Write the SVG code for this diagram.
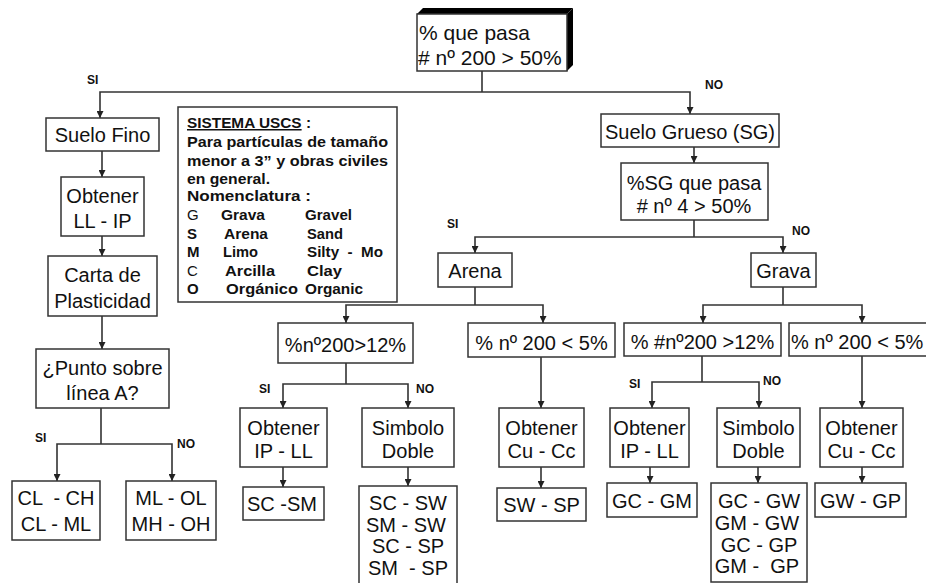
<svg xmlns="http://www.w3.org/2000/svg" width="926" height="583" viewBox="0 0 926 583">
<style>
.box{fill:#fff;stroke:#333;stroke-width:1.5}
.t{font-family:"Liberation Sans",Arial,sans-serif;font-size:20px;fill:#111;text-anchor:middle}
.lbl{font-family:"Liberation Sans",Arial,sans-serif;font-size:12px;font-weight:bold;fill:#111}
.k{font-family:"Liberation Sans",Arial,sans-serif;font-size:15px;font-weight:bold;fill:#111}
.r{font-weight:normal}
.conn path{stroke:#333;stroke-width:1.6;fill:none}
</style>
<defs>
<marker id="ah" viewBox="0 0 10 10" refX="10" refY="5" markerWidth="7" markerHeight="7" markerUnits="userSpaceOnUse" orient="auto">
<path d="M0,0 L10,5 L0,10 z" fill="#222"/>
</marker>
</defs>
<rect width="926" height="583" fill="#fff"/>

<g class="conn">
<path d="M482,71 V92"/>
<path d="M482,92 H100 V118" marker-end="url(#ah)"/>
<path d="M482,92 H690 V114" marker-end="url(#ah)"/>
<path d="M102,151 V177" marker-end="url(#ah)"/>
<path d="M102,236 V256" marker-end="url(#ah)"/>
<path d="M102,316 V349" marker-end="url(#ah)"/>
<path d="M101,408 V444"/>
<path d="M101,444 H57 V481" marker-end="url(#ah)"/>
<path d="M101,444 H172 V481" marker-end="url(#ah)"/>
<path d="M694,147 V163" marker-end="url(#ah)"/>
<path d="M694,220 V237"/>
<path d="M694,237 H475 V253" marker-end="url(#ah)"/>
<path d="M694,237 H783 V253" marker-end="url(#ah)"/>
<path d="M475,287 V305"/>
<path d="M475,305 H346 V323" marker-end="url(#ah)"/>
<path d="M475,305 H543 V323" marker-end="url(#ah)"/>
<path d="M783,287 V305"/>
<path d="M783,305 H703 V323" marker-end="url(#ah)"/>
<path d="M783,305 H862 V323" marker-end="url(#ah)"/>
<path d="M346,363 V384"/>
<path d="M346,384 H283 V408" marker-end="url(#ah)"/>
<path d="M346,384 H408 V408" marker-end="url(#ah)"/>
<path d="M541,357 V408" marker-end="url(#ah)"/>
<path d="M702,356 V382"/>
<path d="M702,382 H652 V408" marker-end="url(#ah)"/>
<path d="M702,382 H759 V408" marker-end="url(#ah)"/>
<path d="M862,356 V408" marker-end="url(#ah)"/>
<path d="M283,467 V487" marker-end="url(#ah)"/>
<path d="M408,467 V486" marker-end="url(#ah)"/>
<path d="M541,467 V488" marker-end="url(#ah)"/>
<path d="M650,467 V483" marker-end="url(#ah)"/>
<path d="M758,467 V483" marker-end="url(#ah)"/>
<path d="M862,467 V483" marker-end="url(#ah)"/>
</g>

<g id="labels">
<text class="lbl" x="87" y="84">SI</text>
<text class="lbl" x="705" y="89">NO</text>
<text class="lbl" x="35" y="442">SI</text>
<text class="lbl" x="177" y="448">NO</text>
<text class="lbl" x="447" y="228">SI</text>
<text class="lbl" x="792" y="235">NO</text>
<text class="lbl" x="259" y="393">SI</text>
<text class="lbl" x="416" y="393">NO</text>
<text class="lbl" x="629" y="388">SI</text>
<text class="lbl" x="763" y="385">NO</text>
</g>

<g id="root">
<polygon points="417,14 423,8 573,8 567,14" fill="#000"/>
<polygon points="567,14 573,8 573,65 567,71" fill="#000"/>
<rect class="box" x="417" y="14" width="150" height="57"/>
<text class="t" x="419" y="40" style="text-anchor:start;font-size:21px">% que pasa</text>
<text class="t" x="418" y="65" style="text-anchor:start;font-size:21px"># nº 200 &gt; 50%</text>
</g>

<g id="suelo-fino">
<rect class="box" x="46" y="118" width="113" height="33"/>
<text class="t" x="102.5" y="142">Suelo Fino</text>
</g>
<g id="obtener-ll-ip">
<rect class="box" x="61" y="177" width="83" height="59"/>
<text class="t" x="102.5" y="203">Obtener</text>
<text class="t" x="102.5" y="228">LL - IP</text>
</g>
<g id="carta">
<rect class="box" x="48" y="256" width="109" height="60"/>
<text class="t" x="102.5" y="282">Carta de</text>
<text class="t" x="102.5" y="308">Plasticidad</text>
</g>
<g id="punto">
<rect class="box" x="36" y="349" width="133" height="59"/>
<text class="t" x="102.5" y="375">¿Punto sobre</text>
<text class="t" x="102.5" y="400">línea A?</text>
</g>
<g id="cl">
<rect class="box" x="12" y="481" width="88" height="59"/>
<text class="t" x="56" y="505" xml:space="preserve">CL  - CH</text>
<text class="t" x="56" y="531">CL - ML</text>
</g>
<g id="ml">
<rect class="box" x="126" y="481" width="90" height="59"/>
<text class="t" x="171" y="505">ML - OL</text>
<text class="t" x="171" y="531">MH - OH</text>
</g>

<g id="uscs">
<rect class="box" x="178" y="107" width="219" height="195"/>
<text class="k" x="187" y="128" textLength="124" lengthAdjust="spacingAndGlyphs"><tspan text-decoration="underline">SISTEMA USCS</tspan> :</text>
<text class="k" x="187" y="147" textLength="201" lengthAdjust="spacingAndGlyphs">Para partículas de tamaño</text>
<text class="k" x="187" y="166" textLength="201" lengthAdjust="spacingAndGlyphs">menor a 3” y obras civiles</text>
<text class="k" x="187" y="184" textLength="83" lengthAdjust="spacingAndGlyphs">en general.</text>
<text class="k" x="187" y="201" textLength="124" lengthAdjust="spacingAndGlyphs">Nomenclatura :</text>
<text class="k r" x="187" y="220">G</text><text class="k" x="221" y="220" textLength="44" lengthAdjust="spacingAndGlyphs">Grava</text><text class="k" x="305" y="220" textLength="47" lengthAdjust="spacingAndGlyphs">Gravel</text>
<text class="k" x="187" y="239">S</text><text class="k" x="224" y="239" textLength="44" lengthAdjust="spacingAndGlyphs">Arena</text><text class="k" x="307" y="239" textLength="36" lengthAdjust="spacingAndGlyphs">Sand</text>
<text class="k" x="187" y="257">M</text><text class="k" x="223" y="257" textLength="35" lengthAdjust="spacingAndGlyphs">Limo</text><text class="k" x="307" y="257" xml:space="preserve" textLength="76" lengthAdjust="spacingAndGlyphs">Silty  -  Mo</text>
<text class="k r" x="187" y="276">C</text><text class="k" x="225" y="276" textLength="50" lengthAdjust="spacingAndGlyphs">Arcilla</text><text class="k" x="307" y="276" textLength="35" lengthAdjust="spacingAndGlyphs">Clay</text>
<text class="k" x="187" y="294">O</text><text class="k" x="226" y="294" textLength="72" lengthAdjust="spacingAndGlyphs">Orgánico</text><text class="k" x="305" y="294" textLength="58" lengthAdjust="spacingAndGlyphs">Organic</text>
</g>

<g id="suelo-grueso">
<rect class="box" x="601" y="114" width="178" height="33"/>
<text class="t" x="690" y="139">Suelo Grueso (SG)</text>
</g>
<g id="sg-pasa">
<rect class="box" x="621" y="163" width="147" height="57"/>
<text class="t" x="694" y="190">%SG que pasa</text>
<text class="t" x="694" y="213"># nº 4 &gt; 50%</text>
</g>
<g id="arena">
<rect class="box" x="438" y="253" width="74" height="34"/>
<text class="t" x="475" y="278">Arena</text>
</g>
<g id="grava">
<rect class="box" x="751" y="253" width="65" height="34"/>
<text class="t" x="783.5" y="278">Grava</text>
</g>

<g id="s-mayor12">
<rect class="box" x="278" y="323" width="135" height="40"/>
<text class="t" x="345.5" y="352">%nº200&gt;12%</text>
</g>
<g id="s-menor5">
<rect class="box" x="468" y="323" width="147" height="34"/>
<text class="t" x="541.5" y="350">% nº 200 &lt; 5%</text>
</g>
<g id="g-mayor12">
<rect class="box" x="624" y="323" width="157" height="33"/>
<text class="t" x="702.5" y="349">% #nº200 &gt;12%</text>
</g>
<g id="g-menor5">
<rect class="box" x="789" y="323" width="145" height="33"/>
<text class="t" x="791" y="349" style="text-anchor:start">% nº 200 &lt; 5%</text>
</g>

<g id="s-obtener-ip">
<rect class="box" x="240" y="408" width="87" height="59"/>
<text class="t" x="283.5" y="435">Obtener</text>
<text class="t" x="283.5" y="458">IP - LL</text>
</g>
<g id="s-simbolo">
<rect class="box" x="362" y="408" width="92" height="59"/>
<text class="t" x="408" y="435">Simbolo</text>
<text class="t" x="408" y="458">Doble</text>
</g>
<g id="s-obtener-cu">
<rect class="box" x="499" y="408" width="85" height="59"/>
<text class="t" x="541.5" y="435">Obtener</text>
<text class="t" x="541.5" y="458">Cu - Cc</text>
</g>
<g id="g-obtener-ip">
<rect class="box" x="610" y="408" width="79" height="59"/>
<text class="t" x="649.5" y="435">Obtener</text>
<text class="t" x="649.5" y="458">IP - LL</text>
</g>
<g id="g-simbolo">
<rect class="box" x="717" y="408" width="83" height="59"/>
<text class="t" x="758.5" y="435">Simbolo</text>
<text class="t" x="758.5" y="458">Doble</text>
</g>
<g id="g-obtener-cu">
<rect class="box" x="820" y="408" width="83" height="59"/>
<text class="t" x="861.5" y="435">Obtener</text>
<text class="t" x="861.5" y="458">Cu - Cc</text>
</g>

<g id="sc-sm">
<rect class="box" x="243" y="487" width="81" height="33"/>
<text class="t" x="282" y="511">SC -SM</text>
</g>
<g id="sc-sw">
<rect class="box" x="359" y="486" width="98" height="100"/>
<text class="t" x="408" y="510">SC - SW</text>
<text class="t" x="406" y="532">SM - SW</text>
<text class="t" x="408" y="553">SC - SP</text>
<text class="t" x="408" y="575" xml:space="preserve">SM  - SP</text>
</g>
<g id="sw-sp">
<rect class="box" x="497" y="488" width="89" height="33"/>
<text class="t" x="541.5" y="512">SW - SP</text>
</g>
<g id="gc-gm">
<rect class="box" x="607" y="483" width="90" height="34"/>
<text class="t" x="652" y="508">GC - GM</text>
</g>
<g id="gc-gw">
<rect class="box" x="711" y="483" width="96" height="99"/>
<text class="t" x="759" y="508">GC - GW</text>
<text class="t" x="757" y="530">GM - GW</text>
<text class="t" x="759" y="552">GC - GP</text>
<text class="t" x="757" y="573" xml:space="preserve">GM -  GP</text>
</g>
<g id="gw-gp">
<rect class="box" x="815" y="483" width="91" height="34"/>
<text class="t" x="860.5" y="508">GW - GP</text>
</g>
</svg>
